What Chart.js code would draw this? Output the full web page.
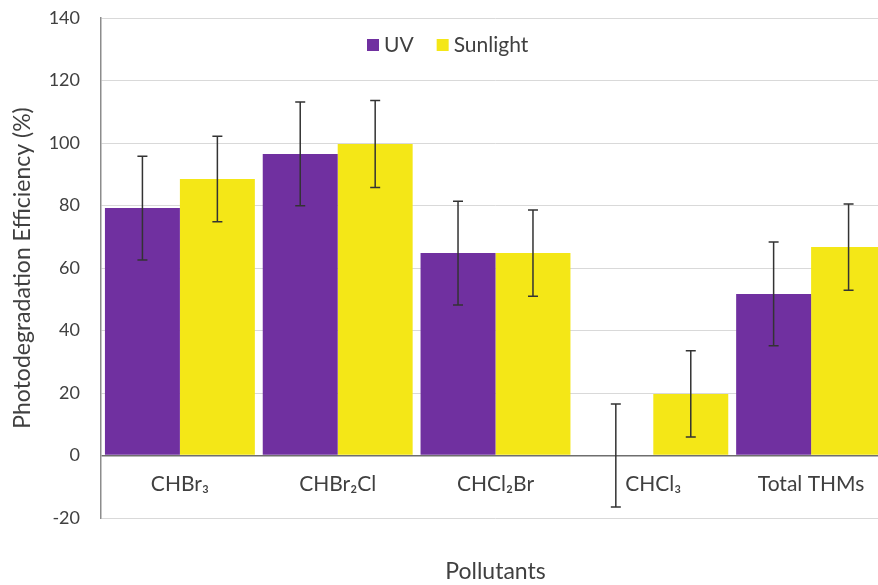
<!DOCTYPE html>
<html>
<head>
<meta charset="utf-8">
<script src="https://cdn.jsdelivr.net/npm/chart.js@4.4.0/dist/chart.umd.min.js"></script>
<style>
  html, body { margin: 0; padding: 0; background: #fff; overflow: hidden; }
  body { width: 878px; height: 585px; }
  /* plot runs a little past the right edge, as in the cropped original */
  #wrap { width: 890px; height: 585px; }
</style>
</head>
<body>
<div id="wrap"><canvas id="chart"></canvas></div>
<script>
// Data
const pollutants = ['CHBr\u2083', 'CHBr\u2082Cl', 'CHCl\u2082Br', 'CHCl\u2083', 'Total THMs'];
const uvValues = [79.2, 96.5, 64.8, 0, 51.7];
const uvErrors = [16.6, 16.6, 16.6, 16.5, 16.6];
const sunValues = [88.5, 99.7, 64.8, 19.7, 66.7];
const sunErrors = [13.7, 13.9, 13.8, 13.8, 13.8];
const yTicks = [-20, 0, 20, 40, 60, 80, 100, 120, 140];

const FONT = 'Lato, "Open Sans", sans-serif';
const TEXT = '#404040';
const UV_COLOR = '#7030A0';
const SUN_COLOR = '#F4E717';

// Error bars drawn through the y scale
const errorBarsPlugin = {
    id: 'errorBars',
    afterDatasetsDraw(chart) {
        const ctx = chart.ctx;
        const yScale = chart.scales.y;
        ctx.save();
        ctx.strokeStyle = '#333333';
        ctx.lineWidth = 1.5;
        chart.data.datasets.forEach((ds, i) => {
            const meta = chart.getDatasetMeta(i);
            meta.data.forEach((bar, j) => {
                const v = ds.data[j];
                const e = ds.errors[j];
                const top = yScale.getPixelForValue(v + e);
                const bottom = yScale.getPixelForValue(v - e);
                const x = bar.x;
                ctx.beginPath();
                ctx.moveTo(x, top);
                ctx.lineTo(x, bottom);
                ctx.moveTo(x - 5, top);
                ctx.lineTo(x + 5, top);
                ctx.moveTo(x - 5, bottom);
                ctx.lineTo(x + 5, bottom);
                ctx.stroke();
            });
        });
        ctx.restore();
    }
};

// Legend sits inside the plot, near the top
const innerLegendPlugin = {
    id: 'innerLegend',
    afterDraw(chart) {
        const ctx = chart.ctx;
        const area = chart.chartArea;
        const y = area.top + 27;
        let x = area.left + 266;
        ctx.save();
        ctx.font = '21px ' + FONT;
        ctx.textBaseline = 'middle';
        chart.data.datasets.forEach(ds => {
            ctx.fillStyle = ds.backgroundColor;
            ctx.fillRect(x, y - 6, 12, 12);
            ctx.fillStyle = TEXT;
            ctx.fillText(ds.label, x + 17, y);
            x += 17 + ctx.measureText(ds.label).width + 23;
        });
        ctx.restore();
    }
};

const ctx = document.getElementById('chart').getContext('2d');
const chart = new Chart(ctx, {
    type: 'bar',
    data: {
        labels: pollutants,
        datasets: [{
            label: 'UV',
            data: uvValues,
            errors: uvErrors,
            backgroundColor: UV_COLOR,
            xAxisID: 'x'
        }, {
            label: 'Sunlight',
            data: sunValues,
            errors: sunErrors,
            backgroundColor: SUN_COLOR,
            xAxisID: 'x'
        }]
    },
    options: {
        responsive: true,
        maintainAspectRatio: false,
        animation: false,
        datasets: {
            bar: {
                categoryPercentage: 0.95,
                barPercentage: 1.0
            }
        },
        layout: {
            padding: { top: 18, right: 0, bottom: 0, left: 0 }
        },
        plugins: {
            legend: { display: false },
            tooltip: { enabled: false }
        },
        scales: {
            x: {
                position: { y: 0 },
                grid: { display: false, drawTicks: false },
                border: { display: false },
                ticks: {
                    color: TEXT,
                    font: { family: FONT, size: 21 },
                    padding: 16
                }
            },
            xTitle: {
                type: 'category',
                position: 'bottom',
                labels: pollutants,
                grid: { display: false, drawTicks: false },
                border: { display: false },
                ticks: { display: false },
                title: {
                    display: true,
                    text: 'Pollutants',
                    color: TEXT,
                    font: { family: FONT, size: 23 },
                    padding: { top: 0, bottom: 0 }
                },
                afterFit(scale) { scale.height = 67; }
            },
            y: {
                min: -20,
                max: 140,
                afterBuildTicks(scale) {
                    scale.ticks = yTicks.map(v => ({ value: v }));
                },
                grid: {
                    color: ctx => ctx.tick && ctx.tick.value === 0 ? '#6e6e6e' : '#d9d9d9',
                    lineWidth: ctx => ctx.tick && ctx.tick.value === 0 ? 1.5 : 1,
                    drawTicks: false
                },
                border: { display: true, color: '#8c8c8c', width: 1.5 },
                ticks: {
                    color: TEXT,
                    font: { family: FONT, size: 18 },
                    padding: 21
                },
                title: {
                    display: true,
                    text: 'Photodegradation Efficiency (%)',
                    color: TEXT,
                    font: { family: FONT, size: 23 },
                    padding: { top: 9, bottom: 0 }
                },
                afterFit(scale) {
                    scale.width = 101;
                    scale.paddingTop = 0;
                    scale.paddingBottom = 0;
                }
            }
        }
    },
    plugins: [errorBarsPlugin, innerLegendPlugin]
});
</script>
</body>
</html>
